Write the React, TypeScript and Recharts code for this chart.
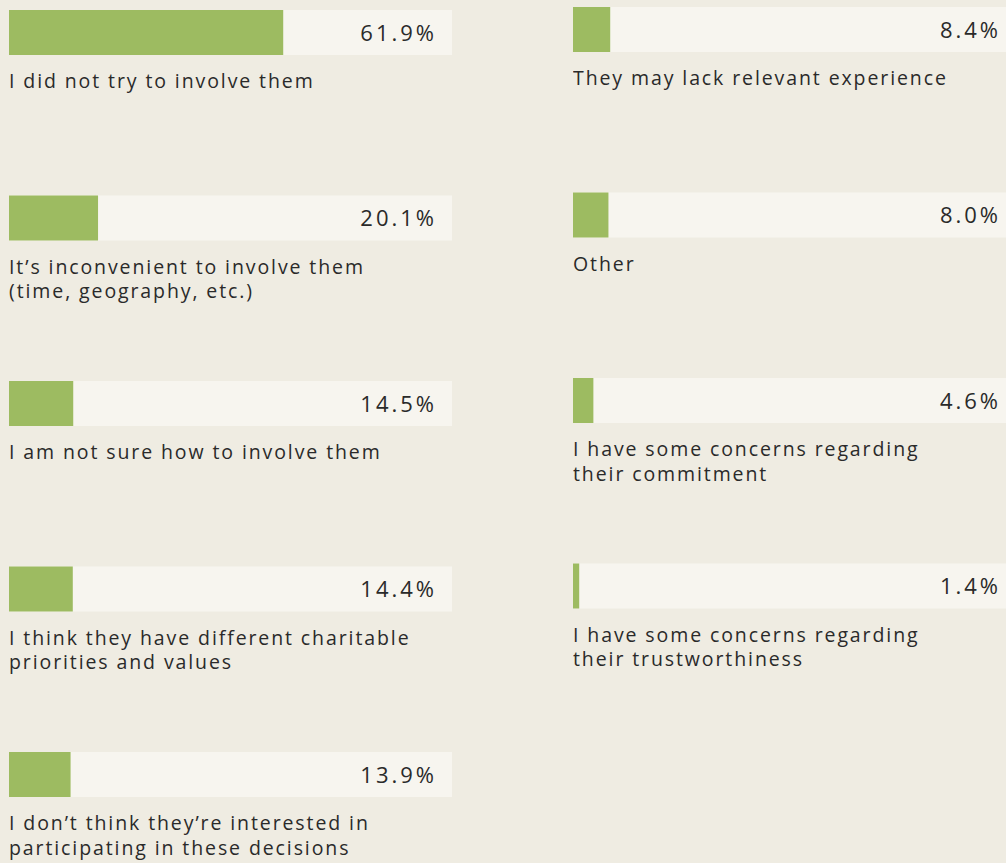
import { BarChart, Bar, XAxis, YAxis, LabelList } from "recharts";

const leftCaptions = [
  "I did not try to involve them",
  "It’s inconvenient to involve them\n(time, geography, etc.)",
  "I am not sure how to involve them",
  "I think they have different charitable\npriorities and values",
  "I don’t think they’re interested in\nparticipating in these decisions",
];
const leftValues = [61.9, 20.1, 14.5, 14.4, 13.9];

const rightCaptions = [
  "They may lack relevant experience",
  "Other",
  "I have some concerns regarding\ntheir commitment",
  "I have some concerns regarding\ntheir trustworthiness",
];
const rightValues = [8.4, 8.0, 4.6, 1.4];

const BG = "#efece2";
const TRACK = "#f7f5ef";
const GREEN = "#9dbb61";
const TEXT = "#2a2a2a";
const FONT = "'Open Sans', sans-serif";

const CHART_W = 443;
const BAND = 185.5;
const BAR_H = 45;

const PctLabel = (props: any) => {
  const { y, height, value } = props;
  return (
    <text
      x={CHART_W - 15}
      y={y + height / 2 + 8}
      textAnchor="end"
      fill={TEXT}
      fontFamily={FONT}
      fontSize={22}
      letterSpacing={3}
    >
      {Number(value).toFixed(1) + "%"}
    </text>
  );
};

const CaptionLabel = (props: any) => {
  const { y, height, value } = props;
  const lines = String(value).split("\n");
  return (
    <text
      x={0}
      y={y + height + 33}
      fill={TEXT}
      fontFamily={FONT}
      fontSize={19.5}
      letterSpacing={1.9}
    >
      {lines.map((l, i) => (
        <tspan key={i} x={0} dy={i === 0 ? 0 : 24.5}>
          {l}
        </tspan>
      ))}
    </text>
  );
};

function Column({ captions, values }: { captions: string[]; values: number[] }) {
  const data = values.map((v, i) => ({ caption: captions[i], value: v }));
  return (
    <BarChart
      width={CHART_W}
      height={BAND * values.length}
      data={data}
      layout="vertical"
      margin={{ top: 0, right: 0, bottom: 0, left: 0 }}
      style={{ overflow: "visible" }}
    >
      <XAxis type="number" domain={[0, 100]} hide />
      <YAxis type="category" dataKey="caption" hide />
      <Bar
        dataKey="value"
        fill={GREEN}
        barSize={BAR_H}
        background={{ fill: TRACK }}
        isAnimationActive={false}
      >
        <LabelList dataKey="value" content={PctLabel} />
        <LabelList dataKey="caption" content={CaptionLabel} />
      </Bar>
    </BarChart>
  );
}

export default function App() {
  return (
    <div
      style={{
        position: "absolute",
        left: 0,
        top: 0,
        width: 1006,
        height: 863,
        overflow: "hidden",
        background: BG,
      }}
    >
      <div style={{ position: "absolute", left: 9, top: -60 }}>
        <Column captions={leftCaptions} values={leftValues} />
      </div>
      <div style={{ position: "absolute", left: 573, top: -63 }}>
        <Column captions={rightCaptions} values={rightValues} />
      </div>
    </div>
  );
}
